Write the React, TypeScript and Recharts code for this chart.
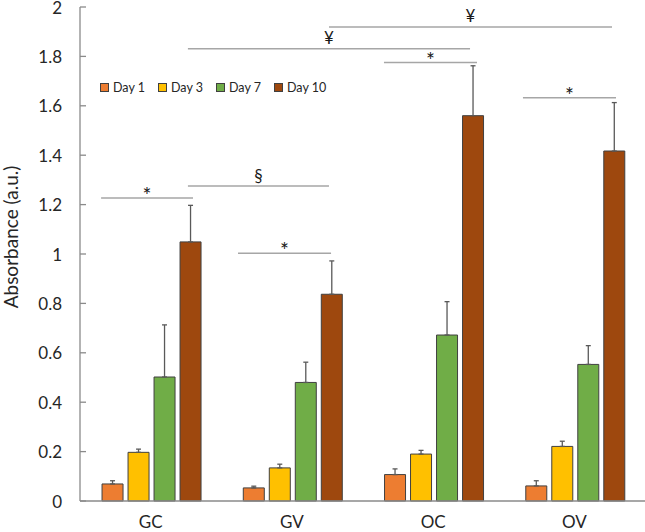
import {
  BarChart,
  Bar,
  XAxis,
  YAxis,
  ErrorBar,
  Legend,
  ReferenceLine,
} from 'recharts'

const groups = ['GC', 'GV', 'OC', 'OV']

const day1 = [0.069, 0.053, 0.107, 0.061]
const day1Err = [0.013, 0.007, 0.023, 0.021]
const day3 = [0.197, 0.134, 0.19, 0.221]
const day3Err = [0.013, 0.015, 0.015, 0.021]
const day7 = [0.502, 0.48, 0.672, 0.553]
const day7Err = [0.211, 0.082, 0.135, 0.076]
const day10 = [1.049, 0.837, 1.56, 1.417]
const day10Err = [0.148, 0.135, 0.202, 0.196]

const yTicks = [0, 0.2, 0.4, 0.6, 0.8, 1, 1.2, 1.4, 1.6, 1.8, 2]

// significance brackets: x on a 0..3 axis spanning the plot width, y in absorbance
const sigFrom = [0.112, 0.573, 0.839, 0.573, 1.322, 1.614, 2.352]
const sigTo = [0.6, 1.322, 1.333, 2.071, 2.825, 2.108, 2.846]
const sigLevel = [1.227, 1.275, 1.003, 1.831, 1.919, 1.775, 1.633]
const sigMark = ['*', '§', '*', '¥', '¥', '*', '*']

const series = [
  { key: 'd1', err: 'e1', name: 'Day 1', color: '#ED7D31' },
  { key: 'd3', err: 'e3', name: 'Day 3', color: '#FFC000' },
  { key: 'd7', err: 'e7', name: 'Day 7', color: '#70AD47' },
  { key: 'd10', err: 'e10', name: 'Day 10', color: '#9E480E' },
]

const data = groups.map((g, i) => ({
  group: g,
  d1: day1[i],
  e1: [0, day1Err[i]],
  d3: day3[i],
  e3: [0, day3Err[i]],
  d7: day7[i],
  e7: [0, day7Err[i]],
  d10: day10[i],
  e10: [0, day10Err[i]],
}))

const FONT = 'Lato, "DejaVu Sans", sans-serif'
const AXIS = '#8a8a8a'
const markStyle: Record<string, { size: number; offset: number }> = {
  '*': { size: 21, offset: -5 },
  '§': { size: 17, offset: 4 },
  '¥': { size: 17, offset: 5 },
}

function YTick({ x, y, payload }: any) {
  return (
    <g>
      <line x1={x + 18} x2={x + 24} y1={y} y2={y} stroke={AXIS} strokeWidth={1.3} />
      <text
        x={x}
        y={y}
        textAnchor="end"
        dominantBaseline="central"
        fontFamily={FONT}
        fontSize={17}
        fill="#262626"
      >
        {payload.value}
      </text>
    </g>
  )
}

function YLabel({ viewBox }: any) {
  const cx = viewBox.x + 10
  const cy = viewBox.y + viewBox.height / 2 - 17
  return (
    <text
      x={cx}
      y={cy}
      transform={`rotate(-90 ${cx} ${cy})`}
      textAnchor="middle"
      dominantBaseline="central"
      fontFamily={FONT}
      fontSize={19}
      fill="#262626"
    >
      Absorbance (a.u.)
    </text>
  )
}

function LegendBox({ payload }: any) {
  const items = series
    .map((s) => (payload || []).find((p: any) => p.value === s.name))
    .filter(Boolean)
  return (
    <div style={{ display: 'flex', fontFamily: FONT, fontSize: 12.5, color: '#262626' }}>
      {items.map((p: any) => (
        <span
          key={p.value}
          style={{ display: 'flex', alignItems: 'center', marginRight: 13 }}
        >
          <span
            style={{
              width: 7,
              height: 7,
              background: p.color,
              border: '1px solid #404040',
              marginRight: 4,
            }}
          />
          {p.value}
        </span>
      ))}
    </div>
  )
}

export default function App() {
  return (
    <div style={{ position: 'absolute', left: 0, top: 0, background: '#fff' }}>
      <BarChart
        width={645}
        height={532}
        data={data}
        margin={{ top: 7, right: 0, bottom: 0, left: 0 }}
        barCategoryGap="15.6%"
        barGap={5}
      >
        <XAxis
          dataKey="group"
          height={31}
          tickLine={false}
          tickMargin={9}
          stroke={AXIS}
          strokeWidth={1.3}
          tick={{ fontFamily: FONT, fontSize: 17, fill: '#262626' }}
        />
        <XAxis xAxisId="sig" type="number" domain={[0, 3]} allowDataOverflow hide />
        <YAxis
          width={80}
          domain={[0, 2]}
          ticks={yTicks}
          interval={0}
          tickLine={false}
          tickSize={0}
          tickMargin={18}
          stroke={AXIS}
          strokeWidth={1.3}
          tick={<YTick />}
          label={<YLabel />}
        />
        <Legend
          verticalAlign="middle"
          align="center"
          layout="horizontal"
          content={<LegendBox />}
          wrapperStyle={{ top: 80, left: 100, width: 'auto' }}
        />
        {series.map((s) => (
          <Bar
            key={s.key}
            dataKey={s.key}
            name={s.name}
            fill={s.color}
            stroke="#404040"
            strokeWidth={1}
            isAnimationActive={false}
          >
            <ErrorBar
              dataKey={s.err}
              direction="y"
              width={2.5}
              stroke="#595959"
              strokeWidth={1.3}
              isAnimationActive={false}
            />
          </Bar>
        ))}
        {sigMark.map((m, i) => (
          <ReferenceLine
            key={i}
            xAxisId="sig"
            segment={[
              { x: sigFrom[i], y: sigLevel[i] },
              { x: sigTo[i], y: sigLevel[i] },
            ]}
            stroke="#a6a6a6"
            strokeWidth={1.5}
            ifOverflow="visible"
            label={{
              value: m,
              position: 'top',
              offset: markStyle[m].offset,
              fill: '#1a1a1a',
              fontFamily: FONT,
              fontSize: markStyle[m].size,
            }}
          />
        ))}
      </BarChart>
    </div>
  )
}
